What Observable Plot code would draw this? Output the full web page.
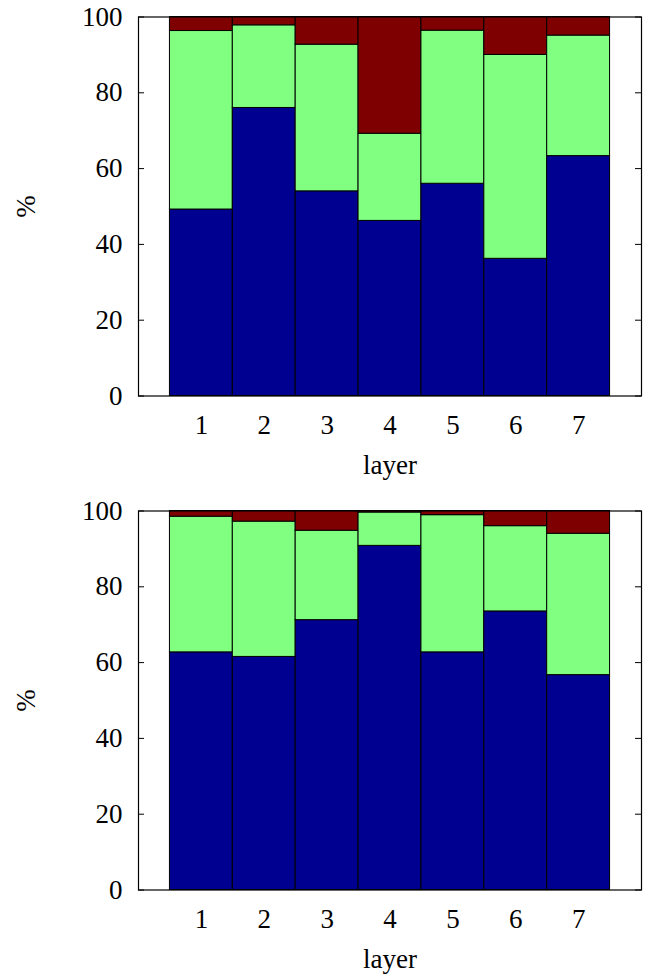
<!DOCTYPE html>
<html>
<head>
<meta charset="utf-8">
<script src="https://cdn.jsdelivr.net/npm/d3@7"></script>
<script src="https://cdn.jsdelivr.net/npm/@observablehq/plot@0.6"></script>
<style>
  html, body { margin: 0; padding: 0; background: #fff; }
  #wrap { position: relative; width: 648px; height: 975px; }
  .panel { position: absolute; left: 0; }
</style>
</head>
<body>
<div id="wrap">
  <div class="panel" id="p1" style="top:0px"></div>
  <div class="panel" id="p2" style="top:494px"></div>
</div>
<script>
// ---- data ----
const layers = [1, 2, 3, 4, 5, 6, 7];
const series = ["low", "mid", "high"];

// top panel (percent per layer)
const topLow  = [49.2, 76.0, 54.0, 46.2, 56.0, 36.2, 63.3];
const topMid  = [47.1, 21.8, 38.7, 23.0, 40.4, 53.8, 31.8];
const topHigh = [3.7, 2.2, 7.3, 30.8, 3.6, 10.0, 4.9];

// bottom panel
const botLow  = [62.7, 61.5, 71.2, 90.8, 62.7, 73.5, 56.7];
const botMid  = [35.8, 35.7, 23.6, 8.8, 36.2, 22.5, 37.3];
const botHigh = [1.5, 2.8, 5.2, 0.4, 1.1, 4.0, 6.0];

const yTicks = [0, 20, 40, 60, 80, 100];
const xLabel = "layer";
const yLabel = "%";

// ---- layout ----
const W = 648, H = 481;
const mL = 138, mR = 7, mT = 16.5, mB = 85.5;
const plotW = W - mL - mR;
const font = "'Liberation Serif', 'Times New Roman', serif";
const fs = 27;

function rows(a, b, c) {
  const out = [];
  layers.forEach((l, i) => {
    out.push({layer: l, series: series[0], value: a[i]});
    out.push({layer: l, series: series[1], value: b[i]});
    out.push({layer: l, series: series[2], value: c[i]});
  });
  return out;
}

function panel(data) {
  return Plot.plot({
    width: W, height: H,
    marginLeft: mL, marginRight: mR, marginTop: mT, marginBottom: mB,
    style: {fontFamily: font, fontSize: fs + "px", color: "#000", background: "#fff"},
    x: {domain: [0, 8], ticks: layers, tickFormat: d => String(d)},
    y: {domain: [0, 100], ticks: yTicks},
    color: {type: "ordinal", domain: series, range: ["#000090", "#80ff80", "#7f0000"]},
    marks: [
      Plot.rectY(data, Plot.stackY({
        x1: d => d.layer - 0.5, x2: d => d.layer + 0.5,
        y: "value", fill: "series", z: "series",
        stroke: "#000", strokeWidth: 1
      })),
      Plot.tickY(yTicks, {y: d => d, stroke: "#000", strokeWidth: 1, insetRight: plotW - 6}),
      Plot.tickY(yTicks, {y: d => d, stroke: "#000", strokeWidth: 1, insetLeft: plotW - 6}),
      Plot.axisY({anchor: "left", ticks: yTicks, tickSize: 0, tickPadding: 16, label: null, fontSize: fs}),
      Plot.axisX({anchor: "bottom", ticks: layers, tickSize: 0, tickPadding: 19, label: null, fontSize: fs}),
      Plot.text([xLabel], {text: d => d, frameAnchor: "bottom", lineAnchor: "middle", textAnchor: "middle", dy: 69, fontSize: fs, fill: "#000"}),
      Plot.text([yLabel], {text: d => d, frameAnchor: "left", lineAnchor: "middle", textAnchor: "middle", dx: -112, rotate: -90, fontSize: fs, fill: "#000"}),
      Plot.frame({stroke: "#000", strokeWidth: 1.2})
    ]
  });
}

document.getElementById("p1").appendChild(panel(rows(topLow, topMid, topHigh)));
document.getElementById("p2").appendChild(panel(rows(botLow, botMid, botHigh)));
</script>
</body>
</html>
